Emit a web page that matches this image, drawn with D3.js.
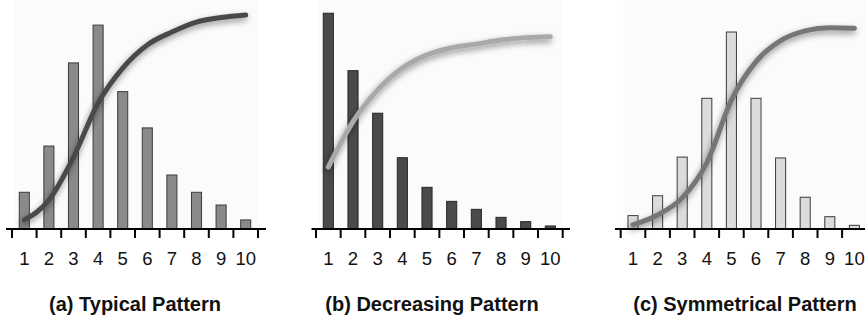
<!DOCTYPE html>
<html>
<head>
<meta charset="utf-8">
<script src="https://cdn.jsdelivr.net/npm/d3@7"></script>
<style>
  html, body { margin: 0; padding: 0; background: #fff; }
  svg { display: block; }
</style>
</head>
<body>
<svg id="chart" width="865" height="321"></svg>
<script>
// ---- data ----
const categories = ["1","2","3","4","5","6","7","8","9","10"];

const typicalBars      = [17, 38.4, 76.9, 94.4, 63.6, 46.8, 25, 17, 11.1, 4.2];
const typicalLine      = [4.2, 13.4, 33.3, 58.3, 74.5, 85.2, 91.2, 95.8, 97.9, 99.1];

const decreasingBars   = [99.9, 73.3, 53.6, 33, 19.3, 12.8, 9.1, 5.4, 3.4, 1.4];
const decreasingLine   = [28.7, 49.7, 64.4, 74.5, 80.6, 83.9, 85.6, 87.5, 88.6, 89.0];

const symmetricalBars  = [6.2, 15.4, 33.3, 60.5, 91.2, 60.5, 32.9, 14.7, 5.7, 1.7];
const symmetricalLine  = [1.9, 6.5, 14.4, 30.6, 59.7, 77.5, 87.2, 91.7, 93.2, 92.9];

const panelTitles = ["(a) Typical Pattern", "(b) Decreasing Pattern", "(c) Symmetrical Pattern"];

// ---- layout / style ----
const panels = [
  { title: panelTitles[0], bars: typicalBars, line: typicalLine,
    x0: 12, x1: 258, axis: [6, 266], titleX: 135,
    barFill: "#8a8a8a", barStroke: "#3c3c3c", lineColor: "#4a4a4a" },
  { title: panelTitles[1], bars: decreasingBars, line: decreasingLine,
    x0: 316, x1: 562.7, axis: [311.5, 570], titleX: 432,
    barFill: "#4a4a4a", barStroke: "#262626", lineColor: "#a9a9a9" },
  { title: panelTitles[2], bars: symmetricalBars, line: symmetricalLine,
    x0: 620.7, x1: 866.7, axis: [615, 865], titleX: 745,
    barFill: "#dcdcdc", barStroke: "#3c3c3c", lineColor: "#767676" }
];

const baseY = 229;
const y = d3.scaleLinear().domain([0, 100]).range([baseY, 13]);

const svg = d3.select("#chart");
const defs = svg.append("defs");
const f = defs.append("filter").attr("id", "shadow")
  .attr("x", "-20%").attr("y", "-20%").attr("width", "140%").attr("height", "140%");
f.append("feDropShadow").attr("dx", -1).attr("dy", 3).attr("stdDeviation", 3)
  .attr("flood-color", "#000").attr("flood-opacity", 0.45);

const font = "'Liberation Sans', Arial, Helvetica, sans-serif";

panels.forEach(p => {
  const x = d3.scaleBand().domain(categories).range([p.x0, p.x1]).paddingInner(0.55).paddingOuter(0.275);
  const xb = d3.scaleBand().domain(categories).range([p.x0, p.x1]);
  const g = svg.append("g");

  // faint plot background
  g.append("rect")
    .attr("x", p.x0 + 3).attr("y", 0)
    .attr("width", p.x1 - p.x0 - 3).attr("height", baseY)
    .attr("fill", "#fbfbfb");

  // bars
  g.selectAll("rect.bar").data(p.bars).join("rect")
    .attr("class", "bar")
    .attr("x", (d, i) => x(categories[i]) + 0.5)
    .attr("y", d => y(d))
    .attr("width", x.bandwidth() - 1)
    .attr("height", d => baseY - y(d))
    .attr("fill", p.barFill)
    .attr("stroke", p.barStroke)
    .attr("stroke-width", 1);

  // axis baseline
  g.append("line")
    .attr("x1", p.axis[0]).attr("x2", p.axis[1])
    .attr("y1", baseY).attr("y2", baseY)
    .attr("stroke", "#000").attr("stroke-width", 2);

  // ticks at band boundaries
  const tickPos = categories.map(c => xb(c)).concat([p.x1]);
  g.selectAll("line.tick").data(tickPos).join("line")
    .attr("class", "tick")
    .attr("x1", d => d).attr("x2", d => d)
    .attr("y1", baseY).attr("y2", baseY + 9)
    .attr("stroke", "#000").attr("stroke-width", 2);

  // tick labels
  g.selectAll("text.lbl").data(categories).join("text")
    .attr("class", "lbl")
    .attr("x", d => xb(d) + xb.bandwidth() / 2)
    .attr("y", 265)
    .attr("text-anchor", "middle")
    .attr("font-family", font)
    .attr("font-size", 18.5)
    .attr("fill", "#111")
    .text(d => d);

  // cumulative line
  const line = d3.line()
    .x((d, i) => xb(categories[i]) + xb.bandwidth() / 2)
    .y(d => y(d))
    .curve(d3.curveMonotoneX);
  g.append("path")
    .datum(p.line)
    .attr("d", line)
    .attr("fill", "none")
    .attr("stroke", p.lineColor)
    .attr("stroke-width", 5)
    .attr("stroke-linecap", "round")
    .attr("stroke-linejoin", "round")
    .attr("filter", "url(#shadow)");

  // title
  g.append("text")
    .attr("x", p.titleX).attr("y", 311)
    .attr("text-anchor", "middle")
    .attr("font-family", font)
    .attr("font-weight", "bold")
    .attr("font-size", 20)
    .attr("fill", "#111")
    .text(p.title);
});
</script>
</body>
</html>
